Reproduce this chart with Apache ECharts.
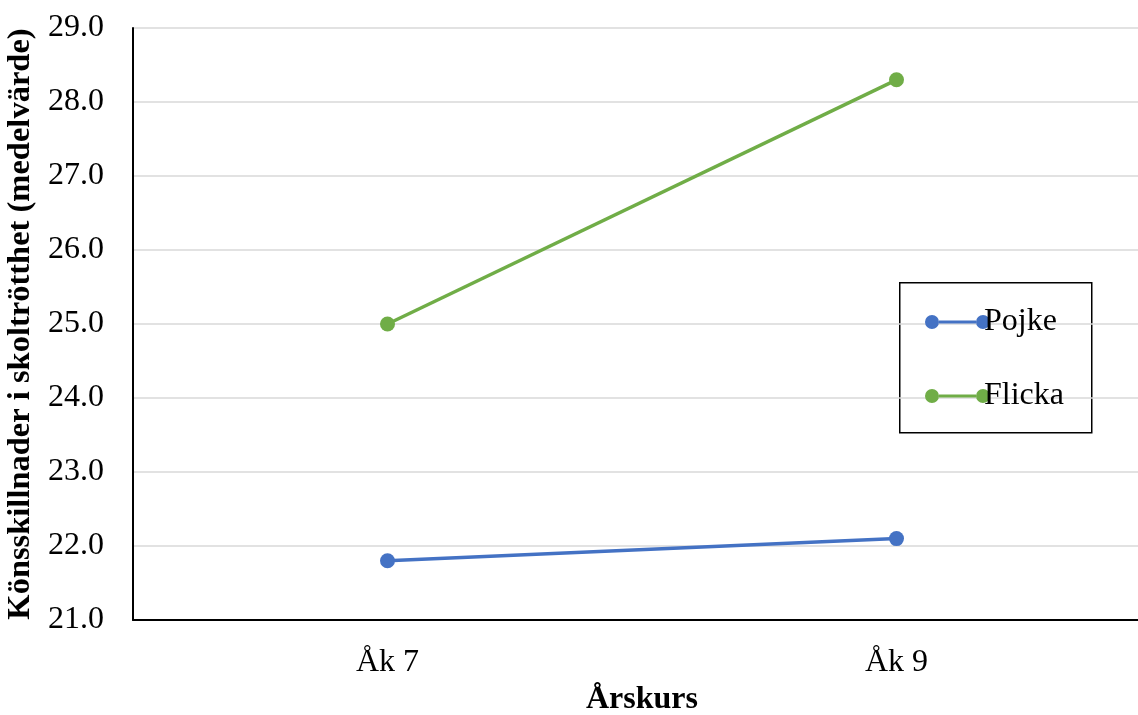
<!DOCTYPE html>
<html><head><meta charset="utf-8">
<script src="https://cdn.jsdelivr.net/npm/echarts@6/dist/echarts.min.js"></script>
<style>html,body{margin:0;padding:0;background:#fff}#c{width:1138px;height:715px}</style>
</head><body><div id="c"></div>
<script>
const categories = ['Åk 7', 'Åk 9'];
const pojke = [21.8, 22.1];
const flicka = [25.0, 28.3];
const yTicks = { min: 21, max: 29, interval: 1 };

const font = 'Liberation Serif, Times New Roman, serif';
const legendIcon = 'path://M0,7a7,7 0 1,0 14,0a7,7 0 1,0 -14,0Z M51,7a7,7 0 1,0 14,0a7,7 0 1,0 -14,0Z M14,5.5H51V8.5H14Z';
const chart = echarts.init(document.getElementById('c'));
chart.setOption({
  animation: false,
  backgroundColor: '#fff',
  grid: { left: 133, top: 28, width: 1018, bottom: 95, containLabel: false, outerBoundsMode: 'none' },
  xAxis: {
    type: 'category', data: categories, boundaryGap: true,
    name: 'Årskurs', nameLocation: 'middle', nameGap: 64,
    nameTextStyle: { fontFamily: font, fontWeight: 'bold', fontSize: 32, color: '#000' },
    axisLine: { lineStyle: { color: '#000', width: 2 } },
    axisTick: { show: false },
    axisLabel: { fontFamily: font, fontSize: 32, color: '#000', margin: 27 }
  },
  yAxis: {
    type: 'value', min: yTicks.min, max: yTicks.max, interval: yTicks.interval,
    name: 'Könsskillnader i skoltrötthet (medelvärde)', nameLocation: 'middle', nameGap: 94,
    nameTextStyle: { fontFamily: font, fontWeight: 'bold', fontSize: 32.5, color: '#000' },
    axisLine: { show: true, lineStyle: { color: '#000', width: 2 } },
    axisTick: { show: false },
    axisLabel: { fontFamily: font, fontSize: 32, color: '#000', margin: 29, padding: [5, 0, 0, 0], formatter: v => v.toFixed(1) },
    splitLine: { lineStyle: { color: '#d9d9d9', width: 1.5 } }
  },
  legend: {
    orient: 'vertical', left: 920, top: 301, itemGap: 42,
    itemWidth: 65, itemHeight: 14, icon: legendIcon,
    textStyle: { fontFamily: font, fontSize: 32, color: '#000', padding: [0, 0, 0, -11] },
    data: ['Pojke', 'Flicka']
  },
  graphic: [{
    type: 'rect', left: 899, top: 282, z: 0,
    shape: { width: 192, height: 150 },
    style: { fill: '#fff', stroke: '#000', lineWidth: 1.5 }
  }],
  series: [
    { name: 'Pojke', type: 'line', data: pojke, symbol: 'circle', symbolSize: 15,
      lineStyle: { color: '#4472C4', width: 3.5 }, itemStyle: { color: '#4472C4' }, z: 3 },
    { name: 'Flicka', type: 'line', data: flicka, symbol: 'circle', symbolSize: 15,
      lineStyle: { color: '#70AD47', width: 3.5 }, itemStyle: { color: '#70AD47' }, z: 3 }
  ]
});
</script></body></html>
